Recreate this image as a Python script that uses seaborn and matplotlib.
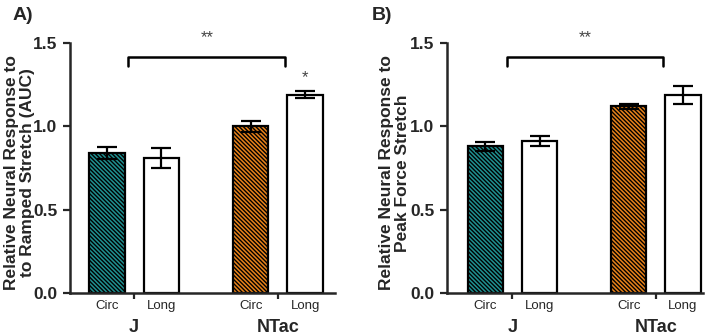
import seaborn as sns
import pandas as pd
import matplotlib
matplotlib.use("Agg")
import matplotlib.pyplot as plt
import matplotlib.transforms as mtransforms

# data
strains = ["J", "J", "NTac", "NTac"]
layers = ["Circ", "Long", "Circ", "Long"]
auc_mean = [0.84, 0.81, 1.00, 1.19]
auc_sem = [0.034, 0.058, 0.034, 0.02]
peak_mean = [0.88, 0.91, 1.12, 1.19]
peak_sem = [0.027, 0.03, 0.015, 0.055]
yticks = [0.0, 0.5, 1.0, 1.5]
ytick_labels = ["0.0", "0.5", "1.0", "1.5"]

# layout
bar_pos = [0, 1, 2.65, 3.65]
group_pos = [0.5, 3.15]
fills = ["#1f9090", "white", "#e8821a", "white"]
hatches = ["\\" * 8, None, "\\" * 8, None]

sns.set_style("ticks")
plt.rcParams["font.family"] = ["Liberation Sans", "DejaVu Sans"]
plt.rcParams["hatch.linewidth"] = 1.0
plt.rcParams["hatch.color"] = "black"

fig = plt.figure(figsize=(7.2, 3.36), dpi=100)
axA = fig.add_axes([70 / 720, 1 - 293 / 336, 265 / 720, 250 / 336])
axB = fig.add_axes([447 / 720, 1 - 293 / 336, 256 / 720, 250 / 336])


def panel(ax, means, sems, ylabel, xlim, label_x, star_long=False):
    df = pd.DataFrame({"pos": bar_pos, "value": means})
    sns.barplot(data=df, x="pos", y="value", native_scale=True, width=0.65,
                color="white", edgecolor="black", linewidth=1.6,
                errorbar=None, ax=ax, zorder=2)
    for p, fc, h in zip(ax.patches, fills, hatches):
        p.set_facecolor(fc)
        if h:
            p.set_hatch(h)
    ax.errorbar(bar_pos, means, yerr=sems, fmt="none", ecolor="black",
                elinewidth=1.6, capsize=7, capthick=1.6, zorder=3)

    ax.set_xlim(*xlim)
    ax.set_ylim(0, 1.5)
    ax.set_yticks(yticks)
    ax.set_yticklabels(ytick_labels, fontsize=12.5, fontweight="bold")
    ax.set_xticks(group_pos)
    ax.set_xticklabels([])
    ax.tick_params(axis="both", width=1.6, length=5, direction="out", pad=4)
    ax.tick_params(axis="x", length=4)
    for s in ["left", "bottom"]:
        ax.spines[s].set_linewidth(1.8)
    sns.despine(ax=ax)
    ax.set_xlabel("")
    ax.set_ylabel(ylabel, fontsize=12.5, fontweight="bold", linespacing=1.08)
    ax.yaxis.set_label_coords(label_x, 0.48)

    trans = mtransforms.blended_transform_factory(ax.transData, ax.transAxes)
    for x, lab in zip(bar_pos, layers):
        ax.text(x, -0.052, lab, transform=trans, ha="center", va="center",
                fontsize=9.5)
    for x, lab in zip(group_pos, ["J", "NTac"]):
        ax.text(x, -0.138, lab, transform=trans, ha="center", va="center",
                fontsize=13, fontweight="bold")

    # significance bracket
    ax.plot([0.39, 0.39, 3.28, 3.28], [1.362, 1.416, 1.416, 1.362],
            color="black", lw=1.8, clip_on=False)
    ax.text(1.85, 1.53, "**", ha="center", va="center", fontsize=12,
            color="#444444")
    if star_long:
        ax.text(3.65, 1.29, "*", ha="center", va="center", fontsize=12,
                color="#444444")


panel(axA, auc_mean, auc_sem,
      "Relative Neural Response to\nto Ramped Stretch (AUC)",
      (-0.68, 4.2), -0.132, star_long=True)
panel(axB, peak_mean, peak_sem,
      "Relative Neural Response to\nPeak Force Stretch",
      (-0.71, 4.02), -0.145)

fig.text(13 / 720, 1 - 15 / 336, "A)", fontsize=14, fontweight="bold",
         va="center")
fig.text(372 / 720, 1 - 15 / 336, "B)", fontsize=14, fontweight="bold",
         va="center")

plt.savefig("out.png", dpi=100)
